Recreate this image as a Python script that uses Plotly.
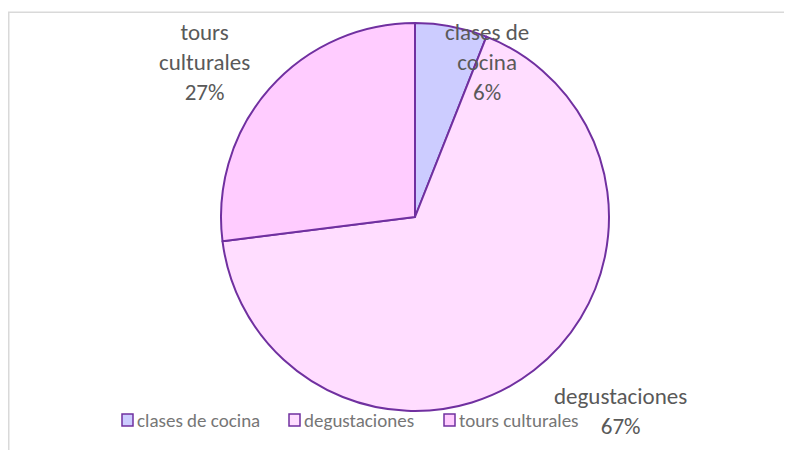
import plotly.graph_objects as go

categories = ["clases de cocina", "degustaciones", "tours culturales"]
values = [6, 67, 27]
colors = ["#CCCCFF", "#FFDDFF", "#FFCCFF"]
label_lines = [["clases de", "cocina"], ["degustaciones"], ["tours", "culturales"]]

# page is offset by the 8px body margin; keep the figure inside the window
OFF = 8
W, H = 792 - OFF, 450 - OFF
FONT = "Carlito, Lato, 'Liberation Sans', sans-serif"
TXT = "#595959"
LEG_TXT = "#767676"

def px(x):
    return (x - OFF) / W

def py(y):
    return 1 - (y - OFF) / H

fig = go.Figure()
fig.add_trace(go.Pie(
    labels=categories, values=values, sort=False, direction="clockwise",
    rotation=0, textinfo="none", hoverinfo="label+percent",
    marker=dict(colors=colors, line=dict(color="#7030A0", width=2)),
    domain=dict(x=[px(221), px(609)], y=[py(411), py(23)]),
    showlegend=False,
))

total = sum(values)
label_pos = [(487, 33), (620, 397), (204, 33)]
annotations = []
for lines, v, (x, y) in zip(label_lines, values, label_pos):
    txt = "<br>".join(lines + [f"{round(100 * v / total)}%"])
    annotations.append(dict(
        x=px(x), y=py(y - 17), xref="paper", yref="paper", text=txt,
        showarrow=False, xanchor="center", yanchor="top", align="center",
        font=dict(family=FONT, size=23, color=TXT),
    ))

# custom legend
legend_x = [122, 289, 444]
shapes = [dict(type="rect", xref="paper", yref="paper",
               x0=px(8.75), x1=px(830), y0=py(480), y1=py(12.25),
               line=dict(color="#D9D9D9", width=1.5), fillcolor="rgba(0,0,0,0)", layer="below")]
for cat, col, lx in zip(categories, colors, legend_x):
    shapes.append(dict(type="rect", xref="paper", yref="paper",
                       x0=px(lx), x1=px(lx + 11), y0=py(426), y1=py(414),
                       line=dict(color="#7030A0", width=1.5), fillcolor=col))
    annotations.append(dict(
        x=px(lx + 13), y=py(420), xref="paper", yref="paper", text=cat,
        showarrow=False, xanchor="left", yanchor="middle",
        font=dict(family=FONT, size=19, color=LEG_TXT),
    ))

fig.update_layout(
    width=W, height=H, margin=dict(l=0, r=0, t=0, b=0),
    paper_bgcolor="white", plot_bgcolor="white",
    annotations=annotations, shapes=shapes, showlegend=False,
)
fig.write_html("out.html")
